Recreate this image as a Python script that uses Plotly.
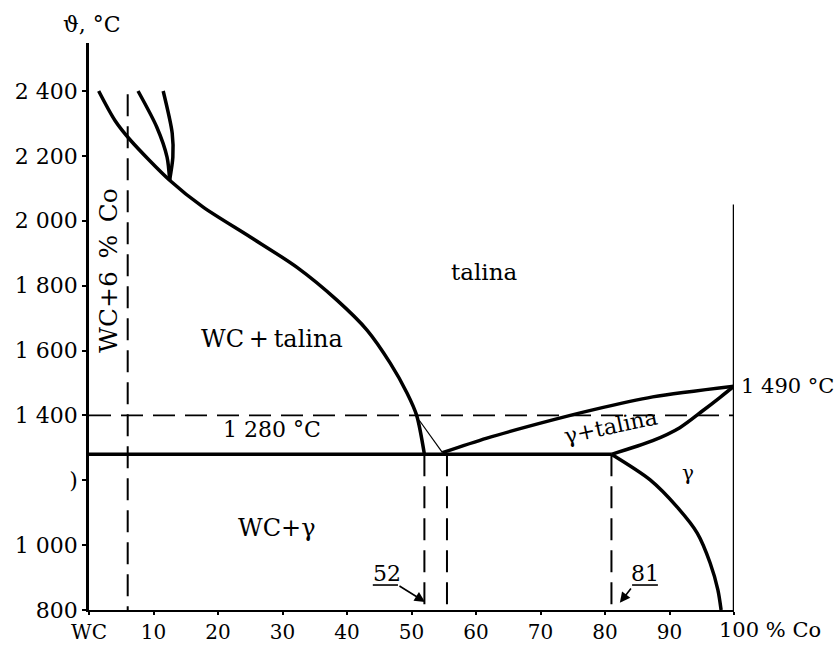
import plotly.graph_objects as go

# ---- data ----
liq_wc_x = [1.5, 4.0, 6.4, 12.5, 17.7, 25.0, 32.2, 38.4, 43.1, 46.7, 49.3, 50.8, 52.0]
liq_wc_t = [2400, 2310, 2249, 2125, 2042, 1950, 1857, 1756, 1663, 1561, 1469, 1400, 1280]

branch2_x = [7.6, 10.5, 12.1, 12.5]
branch2_t = [2400, 2289, 2196, 2125]
branch3_x = [11.5, 12.9, 13.0, 12.5]
branch3_t = [2400, 2270, 2196, 2125]

gam_liq_x = [54.8, 61.7, 71.9, 78.1, 87.4, 100]
gam_liq_t = [1285, 1330, 1386, 1417, 1457, 1490]

gam_sol_x = [81, 87.4, 91.6, 95.2, 97.8, 100]
gam_sol_t = [1280, 1322, 1362, 1415, 1455, 1490]

solvus_x = [81, 87.0, 91.2, 94.3, 96.3, 97.5, 98.0]
solvus_t = [1280, 1201, 1117, 1037, 945, 862, 800]

thin_x = [51.2, 54.8]
thin_t = [1385, 1285]

eutectic_t = 1280
eutectic_x = [0, 81]
iso_t = 1400
wc6_x = 6
eut_comp = [52, 55.5, 81]
co_melt_top = 2050

x_tickvals = [0, 10, 20, 30, 40, 50, 60, 70, 80, 90, 100]
x_ticktext = ["WC", "10", "20", "30", "40", "50", "60", "70", "80", "90", ""]
y_tickvals = [800, 1000, 1200, 1400, 1600, 1800, 2000, 2200, 2400]
y_ticktext = ["800", "1 000", ")", "1 400", "1 600", "1 800",
              "2 000", "2 200", "2 400"]

FONT = "DejaVu Serif"
K = "black"
fig = go.Figure()

def line(x, y, w=3.5, dash=None, shape="linear", smooth=None):
    ln = dict(color=K, width=w, shape=shape)
    if dash:
        ln["dash"] = dash
    if smooth is not None:
        ln["smoothing"] = smooth
    fig.add_trace(go.Scatter(x=x, y=y, mode="lines", line=ln, showlegend=False,
                             hoverinfo="skip"))

DASH = "22px,10px"
# dashed guides
line([0, 100], [iso_t, iso_t], w=1.6, dash=DASH)
line([wc6_x, wc6_x], [2390, 800], w=2, dash=DASH)
for xc in eut_comp:
    line([xc, xc], [eutectic_t, 800], w=2, dash=DASH)

# right vertical (pure Co)
line([100, 100], [800, co_melt_top], w=2.5)

# curves
line(liq_wc_x, liq_wc_t, w=3.5, shape="spline", smooth=0.8)
line(branch2_x, branch2_t, w=3.5, shape="spline", smooth=0.8)
line(branch3_x, branch3_t, w=3.5, shape="spline", smooth=0.8)
line(gam_liq_x, gam_liq_t, w=3.5, shape="spline", smooth=0.8)
line(gam_sol_x, gam_sol_t, w=3.5, shape="spline", smooth=0.8)
line(solvus_x, solvus_t, w=3.5, shape="spline", smooth=0.8)
line(thin_x, thin_t, w=1.2)
line(eutectic_x, [eutectic_t, eutectic_t], w=3.5)

ann = []
def txt(x, y, s, size=22, angle=0, xanchor="center", xref="x", yref="y"):
    ann.append(dict(x=x, y=y, text=s, showarrow=False, xref=xref, yref=yref,
                    xanchor=xanchor, yanchor="middle", textangle=angle,
                    font=dict(family=FONT, size=size, color=K)))

txt(61.2, 1842, "talina", size=23)
txt(28.4, 1635, "WC\u2009+\u2009talina", size=24)
txt(2.9, 1848, "WC+6\u2002%\u2002Co", size=25, angle=-90)
txt(28.4, 1355, "1 280 °C", size=22)
txt(29.0, 1053, "WC+γ", size=24)
txt(80.8, 1367, "γ+talina", size=22, angle=-12)
txt(92.9, 1222, "γ", size=20)
txt(1.008, 1490, "1 490 °C", size=21, xanchor="left", xref="paper")
txt(46.2, 914, "52", size=22)
txt(86.2, 914, "81", size=22)
txt(0.005, 1.032, "ϑ, °C", size=22, xref="paper", yref="paper")
txt(97.3, -0.036, "100 % Co", size=21, xanchor="left", yref="paper")

# arrows for 52 and 81
for hx, hy, tx, ty in [(52.1, 825, 47.9, 877), (82.3, 822, 84.2, 871)]:
    ann.append(dict(x=hx, y=hy, ax=tx, ay=ty, xref="x", yref="y", axref="x", ayref="y",
                    text="", showarrow=True, arrowhead=2, arrowsize=1.3,
                    arrowwidth=1.6, arrowcolor=K))

shapes = [
    dict(type="line", xref="x", yref="y", x0=44.0, x1=47.9, y0=877, y1=877,
         line=dict(color=K, width=1.6)),
    dict(type="line", xref="x", yref="y", x0=84.2, x1=88.2, y0=877, y1=877,
         line=dict(color=K, width=1.6)),
]

fig.update_layout(
    width=837, height=645,
    margin=dict(l=89, r=103, t=43, b=35),
    paper_bgcolor="white", plot_bgcolor="white",
    annotations=ann, shapes=shapes,
    font=dict(family=FONT, size=22, color=K),
    xaxis=dict(range=[0, 100], showgrid=False, zeroline=False, showline=True,
               automargin=False,
               linecolor=K, linewidth=2, ticks="outside", ticklen=3, tickwidth=2,
               tickcolor=K, tickvals=x_tickvals, ticktext=x_ticktext,
               tickfont=dict(family=FONT, size=20, color=K)),
    yaxis=dict(range=[800, 2548], showgrid=False, zeroline=False, showline=True,
               automargin=False,
               linecolor=K, linewidth=2.5, ticks="outside", ticklen=4, tickwidth=2,
               tickcolor=K, tickvals=y_tickvals, ticktext=y_ticktext,
               tickfont=dict(family=FONT, size=22, color=K)),
)

fig.write_html("out.html", config={"displayModeBar": False},
               post_script="document.body.style.margin='0px';")
